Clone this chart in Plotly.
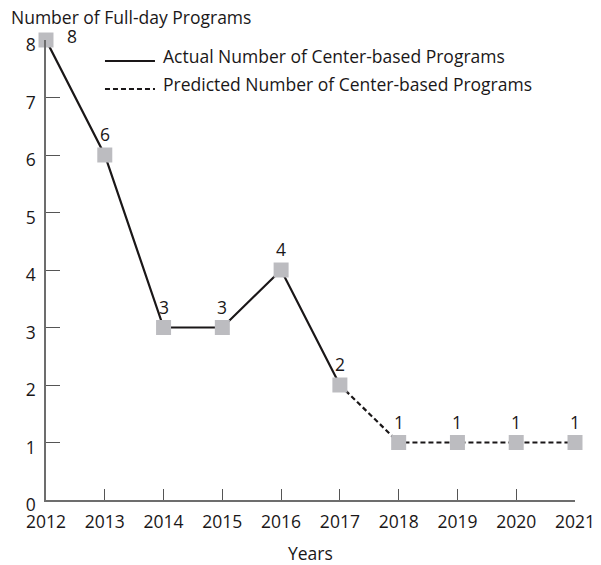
import plotly.graph_objects as go

years = [2012, 2013, 2014, 2015, 2016, 2017, 2018, 2019, 2020, 2021]
programs = [8, 6, 3, 3, 4, 2, 1, 1, 1, 1]
actual_end = 5  # index of the last actual (non-predicted) year
legend_names = ["Actual Number of Center-based Programs",
                "Predicted Number of Center-based Programs"]

FONT = "Open Sans"
FS = 17.5
INK = "#1a1718"
MARK = "#bcbcc0"
DASH = "5px,3px"

fig = go.Figure()

# Actual segment
fig.add_trace(go.Scatter(
    x=years[:actual_end + 1], y=programs[:actual_end + 1], mode="lines",
    line=dict(color=INK, width=2.2), showlegend=False, cliponaxis=False))
# Predicted segment
fig.add_trace(go.Scatter(
    x=years[actual_end:], y=programs[actual_end:], mode="lines",
    line=dict(color=INK, width=2.2, dash=DASH), showlegend=False, cliponaxis=False))
# Square markers
fig.add_trace(go.Scatter(
    x=years, y=programs, mode="markers",
    marker=dict(symbol="square", size=15, color=MARK, line=dict(width=0)),
    showlegend=False, cliponaxis=False))

# Value labels
for i, (x, y) in enumerate(zip(years, programs)):
    if i == 0:
        fig.add_annotation(x=x, y=y, text=str(y), showarrow=False,
                           xanchor="left", yanchor="middle", xshift=19, yshift=4.5,
                           font=dict(family=FONT, size=FS, color=INK))
    else:
        fig.add_annotation(x=x, y=y, text=str(y), showarrow=False,
                           xanchor="center", yanchor="middle", yshift=21,
                           font=dict(family=FONT, size=FS, color=INK))

# Hand-drawn legend (longer line samples than the built-in legend)
legend_rows = [(0.9543, 0.9663, "solid"), (0.8935, 0.9054, DASH)]
for (yline, ytext, dash), name in zip(legend_rows, legend_names):
    fig.add_shape(type="line", xref="paper", yref="paper",
                  x0=0.1115, x1=0.206, y0=yline, y1=yline,
                  line=dict(color=INK, width=2.2, dash=dash))
    fig.add_annotation(xref="paper", yref="paper", x=0.218, y=ytext,
                       xanchor="left", yanchor="middle", showarrow=False,
                       text=name, font=dict(family=FONT, size=FS, color=INK))

# Axis titles
fig.add_annotation(xref="paper", yref="paper", x=-0.07, y=1.049,
                   xanchor="left", yanchor="middle", showarrow=False,
                   text="Number of Full-day Programs",
                   font=dict(family=FONT, size=FS, color=INK))
fig.add_annotation(xref="paper", yref="paper", x=0.5, y=-0.115,
                   xanchor="center", yanchor="middle", showarrow=False,
                   text="Years", font=dict(family=FONT, size=FS, color=INK))

fig.update_xaxes(range=[2012, 2021], tickmode="array", tickvals=years,
                 ticks="inside", ticklen=11, tickwidth=1.3, tickcolor="#555",
                 showline=True, linecolor="#6d6d6d", linewidth=1.6,
                 showgrid=False, zeroline=False, ticklabelstandoff=5,
                 automargin=False,
                 tickfont=dict(family=FONT, size=FS, color=INK))
fig.update_yaxes(range=[0, 8], tickmode="array", tickvals=list(range(9)),
                 ticks="inside", ticklen=14, tickwidth=1.3, tickcolor="#555",
                 showline=True, linecolor="#6d6d6d", linewidth=1.6,
                 showgrid=False, zeroline=False, ticklabelstandoff=5,
                 ticklabelshift=5, automargin=False,
                 tickfont=dict(family=FONT, size=FS, color=INK))

fig.update_layout(
    width=601, height=565,
    margin=dict(l=46, r=26, t=40, b=65),
    paper_bgcolor="white", plot_bgcolor="white",
    font=dict(family=FONT, size=FS, color=INK),
    showlegend=False,
)

fig.write_html("out.html")
